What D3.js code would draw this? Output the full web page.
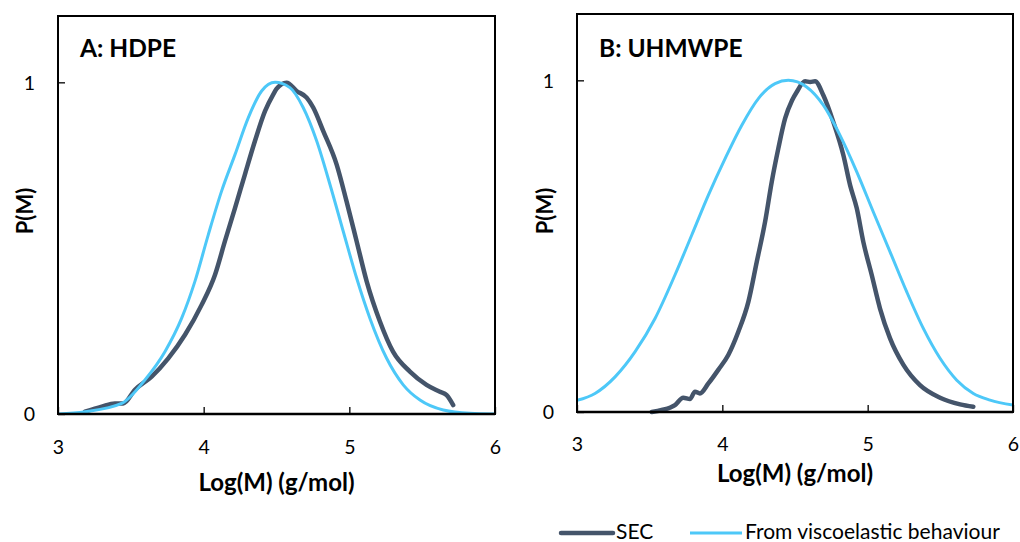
<!DOCTYPE html>
<html><head><meta charset="utf-8">
<script src="https://cdn.jsdelivr.net/npm/d3@7"></script>
<style>body{margin:0;background:#fff}svg{display:block}text{font-family:Lato,"Open Sans",sans-serif}</style>
</head><body><svg id="c" width="1020" height="542"></svg>
<script>
// Panel A: HDPE
const secA_x = [3.185,3.30,3.39,3.448,3.528,3.643,3.757,3.872,3.986,4.078,4.146,4.215,4.283,4.352,4.421,4.478,4.50,4.569,4.638,4.707,4.752,4.821,4.913,4.981,5.05,5.119,5.21,5.30,5.416,5.53,5.622,5.668,5.713];
const secA_y = [0.007,0.022,0.032,0.032,0.073,0.113,0.168,0.239,0.329,0.42,0.521,0.621,0.722,0.823,0.913,0.964,0.980,0.999,0.974,0.954,0.924,0.853,0.752,0.641,0.521,0.40,0.279,0.188,0.128,0.088,0.067,0.057,0.027];
const viscA_x = [3.0,3.185,3.437,3.597,3.734,3.849,3.940,4.032,4.123,4.215,4.306,4.398,4.49,4.592,4.683,4.776,4.867,4.958,5.050,5.141,5.256,5.370,5.485,5.645,5.828,6.0];
const viscA_y = [0.0,0.007,0.032,0.103,0.188,0.289,0.40,0.541,0.672,0.782,0.893,0.974,1.0,0.984,0.924,0.823,0.692,0.551,0.41,0.289,0.168,0.088,0.042,0.012,0.002,0.0];
// Panel B: UHMWPE
const secB_x = [3.514,3.583,3.674,3.731,3.777,3.812,3.846,3.904,3.972,4.041,4.11,4.179,4.237,4.294,4.34,4.385,4.432,4.48,4.512,4.569,4.604,4.638,4.695,4.764,4.833,4.879,4.925,4.97,5.028,5.085,5.154,5.246,5.36,5.498,5.636,5.727];
const secB_y = [0.0,0.006,0.021,0.043,0.039,0.061,0.056,0.086,0.127,0.172,0.242,0.332,0.453,0.573,0.694,0.794,0.885,0.94,0.965,0.997,0.995,0.997,0.955,0.874,0.774,0.684,0.614,0.513,0.413,0.312,0.222,0.142,0.081,0.043,0.023,0.016];
const viscB_x = [3.0,3.124,3.262,3.40,3.537,3.674,3.789,3.904,4.019,4.133,4.248,4.363,4.454,4.58,4.695,4.81,4.925,5.039,5.154,5.269,5.383,5.498,5.613,5.727,5.842,6.0];
const viscB_y = [0.035,0.056,0.106,0.182,0.282,0.413,0.533,0.654,0.764,0.864,0.945,0.99,1.0,0.98,0.925,0.834,0.724,0.603,0.483,0.362,0.252,0.162,0.096,0.056,0.036,0.021];

const xTicks = [3,4,5,6];
const yTicks = [0,1];
const panelTitles = ["A: HDPE","B: UHMWPE"];
const xTitle = "Log(M) (g/mol)";
const yTitle = "P(M)";
const legendLabels = ["SEC","From viscoelastic behaviour"];

const SEC_COLOR = "#44546A", VIS_COLOR = "#4DC8F8";
const svg = d3.select("#c");

const panels = [
  {left:58,right:495,top:16,bottom:414,title:panelTitles[0],sx:secA_x,sy:secA_y,vx:viscA_x,vy:viscA_y,xtY:447,xtitleY:491,ytitleX:33},
  {left:577,right:1013,top:14,bottom:412,title:panelTitles[1],sx:secB_x,sy:secB_y,vx:viscB_x,vy:viscB_y,xtY:444,xtitleY:482,ytitleX:553}
];

panels.forEach((p,i)=>{
  const x = d3.scaleLinear().domain([3,6]).range([p.left,p.right]);
  const y = d3.scaleLinear().domain([0,1.2]).range([p.bottom,p.top]);
  const g = svg.append("g");
  const clipId = "clip"+i;
  g.append("clipPath").attr("id",clipId).append("rect")
    .attr("x",p.left).attr("y",p.top).attr("width",p.right-p.left).attr("height",p.bottom-p.top);
  const line = d3.line().x(d=>x(d[0])).y(d=>y(d[1])).curve(d3.curveMonotoneX);
  const sec = p.sx.map((v,k)=>[v,p.sy[k]]);
  const vis = p.vx.map((v,k)=>[v,p.vy[k]]);
  g.append("path").attr("d",line(sec)).attr("fill","none").attr("stroke",SEC_COLOR)
    .attr("stroke-width",4.5).attr("stroke-linejoin","round").attr("stroke-linecap","round");
  g.append("path").attr("d",line(vis)).attr("fill","none").attr("stroke",VIS_COLOR)
    .attr("stroke-width",3).attr("clip-path",`url(#${clipId})`);
  // frame
  g.append("rect").attr("x",p.left).attr("y",p.top).attr("width",p.right-p.left).attr("height",p.bottom-p.top)
    .attr("fill","none").attr("stroke","#000").attr("stroke-width",2);
  g.append("line").attr("x1",p.left).attr("x2",p.right).attr("y1",p.bottom).attr("y2",p.bottom)
    .attr("stroke","#000").attr("stroke-width",2.5);
  // x ticks (inside)
  const xa = g.append("g").attr("transform",`translate(0,${p.bottom})`)
    .call(d3.axisBottom(x).tickValues(xTicks).tickFormat(d3.format("d")).tickSizeInner(-7).tickSizeOuter(0).tickPadding(0));
  xa.select(".domain").remove();
  xa.selectAll("line").attr("stroke","#000").attr("stroke-width",1.3);
  xa.selectAll("text").attr("y",p.xtY-p.bottom).attr("dy","0.35em").attr("font-size",19.5).attr("fill","#000");
  // y ticks (inside)
  const ya = g.append("g").attr("transform",`translate(${p.left},0)`)
    .call(d3.axisLeft(y).tickValues(yTicks).tickFormat(d3.format("d")).tickSizeInner(-7).tickSizeOuter(0).tickPadding(0));
  ya.select(".domain").remove();
  ya.selectAll("line").attr("stroke","#000").attr("stroke-width",1.3);
  ya.selectAll("text").attr("x",-23).attr("dy","0.35em").attr("font-size",19.5).attr("fill","#000");
  // titles
  g.append("text").attr("x",p.left+22).attr("y",57).attr("font-size",24.5).attr("font-weight","bold").text(p.title);
  g.append("text").attr("x",(p.left+p.right)/2).attr("y",p.xtitleY).attr("text-anchor","middle")
    .attr("font-size",24).attr("font-weight","bold").text(xTitle);
  g.append("text").attr("transform",`translate(${p.ytitleX},211) rotate(-90)`).attr("text-anchor","middle")
    .attr("font-size",22).attr("font-weight","bold").text(yTitle);
});

// legend
const lg = svg.append("g");
lg.append("line").attr("x1",561).attr("x2",613).attr("y1",533).attr("y2",533).attr("stroke",SEC_COLOR).attr("stroke-width",4.5).attr("stroke-linecap","round");
lg.append("text").attr("x",616).attr("y",532).attr("dy","0.35em").attr("font-size",21).text(legendLabels[0]);
lg.append("line").attr("x1",690).attr("x2",742).attr("y1",533).attr("y2",533).attr("stroke",VIS_COLOR).attr("stroke-width",3);
lg.append("text").attr("x",745).attr("y",532).attr("dy","0.35em").attr("font-size",21).text(legendLabels[1]);
</script></body></html>
